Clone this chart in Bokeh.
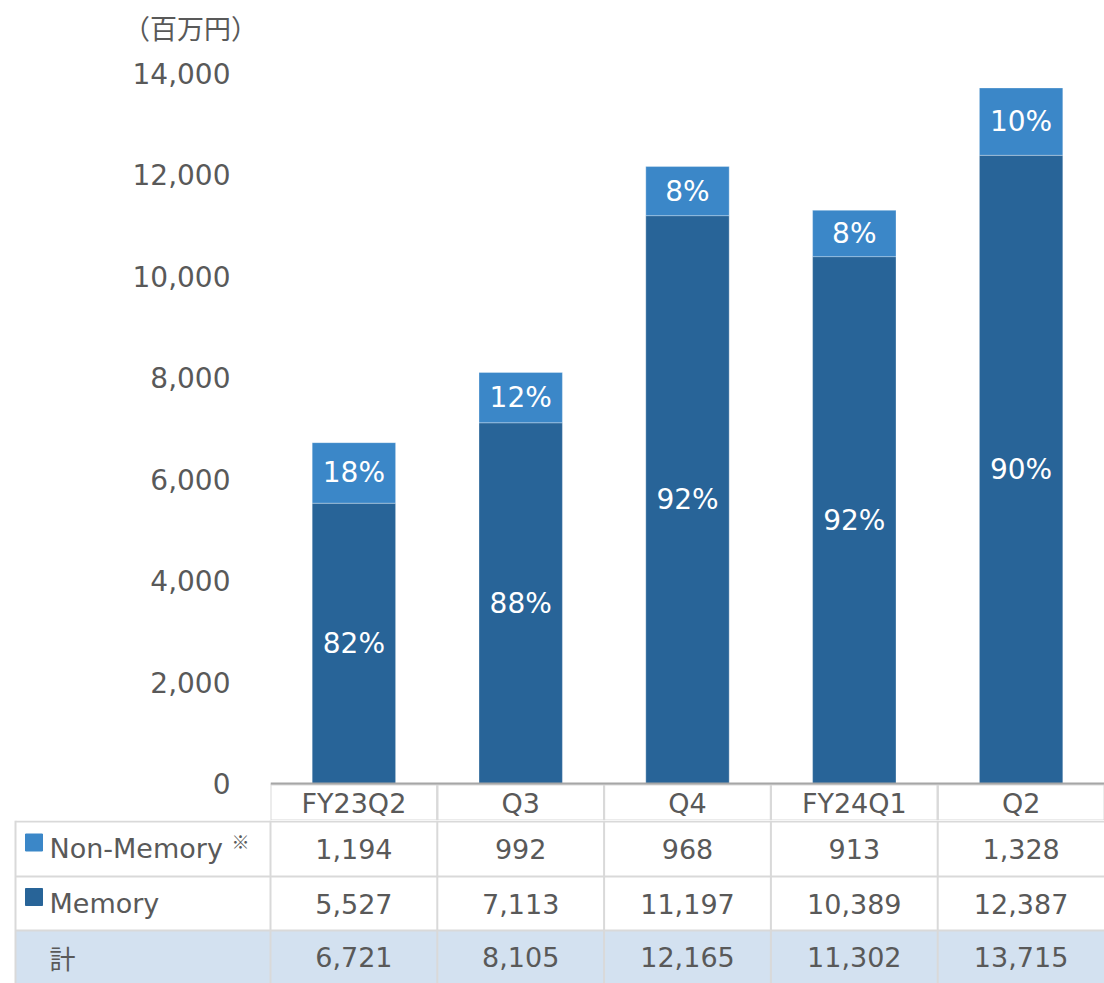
from bokeh.plotting import figure
from bokeh.models import Range1d, NumeralTickFormatter, Span, ColumnDataSource, LinearScale
from bokeh.core.properties import value
from bokeh.embed import file_html
from bokeh.resources import INLINE

# ---- data ----
categories = ["FY23Q2", "Q3", "Q4", "FY24Q1", "Q2"]
non_memory = [1194, 992, 968, 913, 1328]
memory = [5527, 7113, 11197, 10389, 12387]
total = [6721, 8105, 12165, 11302, 13715]
memory_pct = ["82%", "88%", "92%", "92%", "90%"]
non_memory_pct = ["18%", "12%", "8%", "8%", "10%"]
y_ticks = [0, 2000, 4000, 6000, 8000, 10000, 12000, 14000]
row_names = ["Non-Memory", "Memory"]
total_name = "計"
unit_label = "（百万円）"
note_mark = "※"

# ---- styles ----
MEM = "#286498"
NON = "#3B87C8"
FILL = "#D3E1F0"
TXT = "#595959"
GRID = "#D9D9D9"
LATIN = value("DejaVu Sans")
CJK = value("Noto Sans CJK JP")
FS = "27px"

W = 1104
HEAD_H = 50          # strip holding the unit label
TOP_H = 770          # chart + header row of the table
BASE_PX = 733        # pixel row (inside chart) of value 0
TOP_PX = 23          # pixel row (inside chart) of 14,000
TAB_H = 163          # value rows of the table
LEFT_PX = 270
NCAT = len(categories)
COL_PX = (W - LEFT_PX) / NCAT

def fmt(v):
    return f"{v:,}"

# ---- unit label strip ----
p0 = figure(x_range=Range1d(0, W), y_range=Range1d(HEAD_H, 0), width=W, height=HEAD_H,
            x_axis_location=None, y_axis_location=None, min_border=0,
            output_backend="svg", toolbar_location=None)
p0.outline_line_color = None
p0.grid.visible = False
p0.text(x=[190], y=[27], text=[unit_label], text_color=TXT, text_font=CJK,
        text_font_size="27px", text_align="center", text_baseline="middle")

# ---- chart ----
K = (BASE_PX - TOP_PX) / y_ticks[-1]
y_end = BASE_PX / K
y_start = (BASE_PX - TOP_H) / K

p1 = figure(x_range=categories, y_range=Range1d(y_start, y_end), width=W, height=TOP_H,
            x_axis_location=None, output_backend="svg", toolbar_location=None,
            min_border_left=LEFT_PX, min_border_right=0, min_border_top=0, min_border_bottom=0)
p1.outline_line_color = None
p1.grid.visible = False
p1.extra_y_ranges = {"px": Range1d(TOP_H, 0)}
p1.extra_y_scales = {"px": LinearScale()}

src = ColumnDataSource(dict(cat=categories, memory=memory, non_memory=non_memory))
p1.vbar_stack(["memory", "non_memory"], x="cat", width=0.5, color=[MEM, NON], source=src,
              line_color="white", line_alpha=0.3, line_width=1)

lab = ColumnDataSource(dict(
    cat=categories + categories,
    y=[m / 2 for m in memory] + [m + n / 2 for m, n in zip(memory, non_memory)],
    t=memory_pct + non_memory_pct,
))
p1.text(x="cat", y="y", text="t", source=lab, text_color="white", text_font=LATIN,
        text_font_size="28px", text_align="center", text_baseline="middle")

# header row of the table (category labels)
hdr_mid = (BASE_PX + 1 + TOP_H) / 2
p1.rect(x=categories, y=[hdr_mid] * NCAT, width=1, height=TOP_H - BASE_PX - 1,
        fill_color=None, line_color=GRID, line_width=2, y_range_name="px")
p1.text(x=categories, y=[hdr_mid + 1] * NCAT, text=categories, text_color=TXT,
        text_font=LATIN, text_font_size=FS, text_align="center", text_baseline="middle",
        y_range_name="px")

p1.add_layout(Span(location=0, dimension="width", line_color="#A6A6A6", line_width=2))

ax = p1.yaxis[0]
ax.ticker = y_ticks
ax.formatter = NumeralTickFormatter(format="0,0")
ax.axis_line_color = None
ax.major_tick_line_color = None
ax.minor_tick_line_color = None
ax.major_tick_out = 0
ax.major_tick_in = 0
ax.major_label_standoff = 40
ax.major_label_text_font = "DejaVu Sans"
ax.major_label_text_font_size = "28px"
ax.major_label_text_color = TXT

# ---- table body ----
def px2u(px):
    return (px - LEFT_PX) / COL_PX

U0 = px2u(0)
LEFT = px2u(15)
row_edges = [0, 56, 110, TAB_H]
row_mid = [(a + b) / 2 for a, b in zip(row_edges[:-1], row_edges[1:])]

p2 = figure(x_range=Range1d(U0, NCAT), y_range=Range1d(TAB_H, 0), width=W, height=TAB_H,
            x_axis_location=None, y_axis_location=None, min_border=0,
            output_backend="svg", toolbar_location=None)
p2.outline_line_color = None
p2.grid.visible = False

p2.quad(left=[LEFT], right=[NCAT], top=[row_edges[2]], bottom=[row_edges[3]], color=FILL)

vx = list(range(NCAT))
hy = [1] + row_edges[1:3]
p2.segment(x0=[LEFT] * 3, x1=[NCAT] * 3, y0=hy, y1=hy, line_color=GRID, line_width=2)
p2.segment(x0=vx, x1=vx, y0=[0] * NCAT, y1=[TAB_H] * NCAT, line_color=GRID, line_width=2)
p2.segment(x0=[LEFT], x1=[LEFT], y0=[0], y1=[TAB_H], line_color=GRID, line_width=2)

cx = [i + 0.5 for i in range(NCAT)]
for r, vals in enumerate([non_memory, memory, total]):
    p2.text(x=cx, y=[row_mid[r]] * NCAT, text=[fmt(v) for v in vals], text_color=TXT,
            text_font=LATIN, text_font_size=FS, text_align="center", text_baseline="middle")

p2.rect(x=[px2u(33.5)] * 2, y=[row_mid[0] - 6, row_mid[1] - 6.5], width=17, height=17,
        width_units="screen", height_units="screen", color=[NON, MEM])
p2.text(x=[px2u(49)] * 2, y=row_mid[0:2], text=row_names, text_color=TXT, text_font=LATIN,
        text_font_size=FS, text_align="left", text_baseline="middle")
p2.text(x=[px2u(49)], y=[row_mid[2]], text=[total_name], text_color=TXT, text_font=CJK,
        text_font_size="26px", text_align="left", text_baseline="middle")
p2.text(x=[px2u(240)], y=[row_mid[0] - 8], text=[note_mark], text_color=TXT, text_font=CJK,
        text_font_size="18px", text_align="center", text_baseline="middle")

open("out.html", "w").write(file_html([p0, p1, p2], INLINE))
